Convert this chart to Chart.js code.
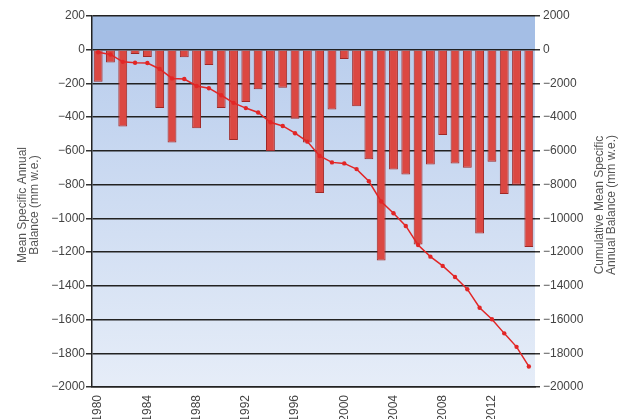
<!DOCTYPE html>
<html>
<head>
<meta charset="utf-8">
<script src="https://cdn.jsdelivr.net/npm/chart.js@4"></script>
<style>
html,body{margin:0;padding:0;background:#fff;}
#wrap{width:626px;height:419px;position:relative;}
</style>
</head>
<body>
<div id="wrap"><canvas id="c" width="626" height="419"></canvas></div>
<script>
const years = [1980,1981,1982,1983,1984,1985,1986,1987,1988,1989,1990,1991,1992,1993,1994,1995,1996,1997,1998,1999,2000,2001,2002,2003,2004,2005,2006,2007,2008,2009,2010,2011,2012,2013,2014,2015];
const annualBalance = [-190,-75,-455,-25,-43,-345,-550,-45,-465,-90,-345,-535,-310,-235,-600,-225,-410,-550,-850,-355,-55,-335,-650,-1250,-710,-740,-1155,-680,-505,-675,-700,-1090,-665,-855,-800,-1170];
const cumulativeBalance = [-150,-280,-720,-770,-790,-1140,-1700,-1740,-2150,-2280,-2700,-3150,-3460,-3720,-4300,-4520,-4950,-5450,-6300,-6680,-6740,-7080,-7800,-9000,-9700,-10450,-11580,-12270,-12820,-13480,-14200,-15300,-15980,-16820,-17620,-18780];
const leftTitle = ['Mean Specific Annual','Balance (mm w.e.)'];
const rightTitle = ['Cumulative Mean Specific','Annual Balance (mm w.e.)'];

const FONT = '"Liberation Sans", Arial, sans-serif';
const fmt = v => (v < 0 ? '\u2212' + Math.abs(v) : String(v));

const bgPlugin = {
  id: 'bg',
  beforeDraw(chart) {
    const {ctx, chartArea: a, scales} = chart;
    const y0 = scales.y.getPixelForValue(0);
    ctx.save();
    ctx.fillStyle = 'rgb(164,190,229)';
    ctx.fillRect(a.left, a.top, a.right - a.left, y0 - a.top);
    const g = ctx.createLinearGradient(0, y0, 0, a.bottom);
    g.addColorStop(0, 'rgb(186,206,237)');
    g.addColorStop(1, 'rgb(230,237,248)');
    ctx.fillStyle = g;
    ctx.fillRect(a.left, y0, a.right - a.left, a.bottom - y0);
    ctx.restore();
  }
};

const titlePlugin = {
  id: 'titles',
  afterDraw(chart) {
    const ctx = chart.ctx;
    const cy = 205;
    ctx.save();
    ctx.fillStyle = '#555';
    ctx.font = '12px ' + FONT;
    ctx.textAlign = 'center';
    ctx.textBaseline = 'middle';
    [[leftTitle, [23, 35]], [rightTitle, [600, 612]]].forEach(([lines, xs]) => {
      lines.forEach((t, i) => {
        ctx.save();
        ctx.translate(xs[i], cy);
        ctx.rotate(-Math.PI / 2);
        ctx.fillText(t, 0, 0);
        ctx.restore();
      });
    });
    ctx.restore();
  }
};

new Chart(document.getElementById('c'), {
  data: {
    labels: years,
    datasets: [
      {
        type: 'line',
        label: 'Cumulative',
        data: cumulativeBalance,
        yAxisID: 'y1',
        borderColor: 'rgb(226,38,38)',
        backgroundColor: 'rgb(226,38,38)',
        borderWidth: 1.5,
        pointRadius: 2.2,
        pointBorderWidth: 0,
        tension: 0,
        order: 0
      },
      {
        type: 'bar',
        label: 'Annual',
        data: annualBalance,
        yAxisID: 'y',
        backgroundColor: 'rgb(219,72,66)',
        borderColor: 'rgb(160,40,38)',
        borderWidth: 1,
        barPercentage: 0.72,
        categoryPercentage: 1,
        order: 1
      }
    ]
  },
  options: {
    responsive: false,
    animation: false,
    layout: {padding: {top: 16, right: 0, bottom: 0, left: 0}},
    plugins: {legend: {display: false}, tooltip: {enabled: false}},
    scales: {
      x: {
        type: 'category',
        offset: true,
        grid: {display: false},
        border: {display: true, color: '#222', width: 1.5},
        ticks: {
          autoSkip: false, maxRotation: 90, minRotation: 90, padding: 0,
          color: '#444', font: {family: FONT, size: 12},
          callback: function(v, i) { const y = years[i]; return (y - 1980) % 4 === 0 ? String(y) : ''; }
        },
        afterFit(s) { s.height = 32; }
      },
      y: {
        position: 'left', min: -2000, max: 200,
        ticks: {stepSize: 200, color: '#444', font: {family: FONT, size: 12}, padding: 1, callback: v => fmt(v)},
        grid: {color: '#222', lineWidth: 1.5, tickLength: 6, tickColor: '#333'},
        border: {display: true, color: '#222', width: 1.5},
        afterFit(s) { s.width = 92; }
      },
      y1: {
        position: 'right', min: -20000, max: 2000,
        ticks: {stepSize: 2000, color: '#444', font: {family: FONT, size: 12}, padding: 3, callback: v => fmt(v)},
        grid: {drawOnChartArea: false, tickLength: 5, tickColor: '#333', lineWidth: 1.5},
        border: {display: false},
        afterFit(s) { s.width = 91; }
      }
    }
  },
  plugins: [bgPlugin, titlePlugin]
});
</script>
</body>
</html>
